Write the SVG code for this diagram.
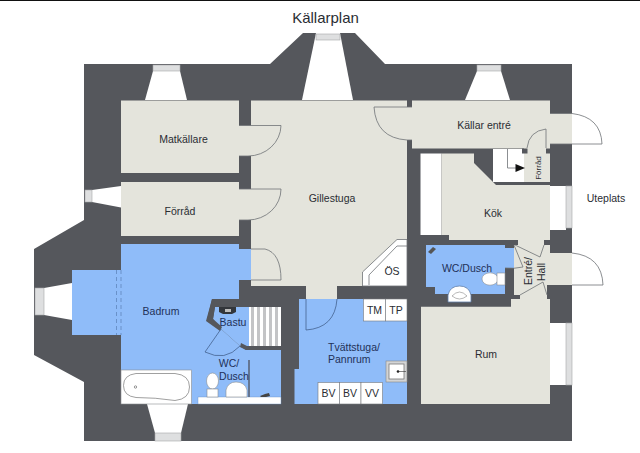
<svg xmlns="http://www.w3.org/2000/svg" width="640" height="453" viewBox="0 0 640 453">
<style>
text{font-family:"Liberation Sans",Arial,sans-serif;font-size:10.5px;text-anchor:middle}
.d{fill:#2a2d33}.b{fill:#1f3158}
.wall{fill:#55575c}.cr{fill:#e4e4dc}.bl{fill:#8fbcf9}.wh{fill:#fff}
.ln{fill:none;stroke:#6f7276;stroke-width:.8}
.lb{fill:none;stroke:#44628f;stroke-width:.8}
.win{fill:#dedfe0;stroke:#a5a7a9;stroke-width:.6}
.fx{fill:#fff;stroke:#8a8d90;stroke-width:.6}
</style>
<rect width="640" height="453" fill="#fff"/>
<rect width="640" height="1" fill="#111"/>
<text x="325.500" y="23" style="font-size:15px" class="d">Källarplan</text>
<polygon id="walls" class="wall" points="84,64 270,64 303,33 355,33 385,64 572,64 572,441 84,441 84,382 34,355 34,249 84,220"/>
<g id="windows">
<polygon class="wh" points="153,71 180,71 187,100 145,100"/><rect class="win" x="153" y="65" width="27" height="6"/>
<polygon class="wh" points="316,33 340,33 353,100 302,100"/><rect class="win" x="316" y="34" width="24" height="6"/>
<polygon class="wh" points="477,71 501,71 510,100 465,100"/><rect class="win" x="477" y="65" width="24" height="6"/>
<polygon class="wh" points="147,404 188,404 181,433 155,433"/><rect class="win" x="155" y="433" width="26" height="8"/>
<polygon class="wh" points="92,190 121,186 121,207.500 92,202"/><rect class="win" x="85" y="190" width="7" height="12"/>
<polygon class="wh" points="44,288 72,283 72,320 44,315"/><rect class="win" x="35" y="288" width="9" height="27"/>
<rect class="wh" x="550" y="186" width="16" height="44"/><rect class="win" x="566" y="186" width="6" height="42"/>
<rect class="wh" x="550" y="323" width="16" height="62"/><rect class="win" x="566" y="323" width="6" height="62"/>
</g>
<g id="matkallare"><rect class="cr" x="121" y="100.500" width="118" height="72.500"/><rect class="cr" x="238" y="125.500" width="14" height="30.500"/><text x="183.500" y="143" class="d">Matkällare</text></g>
<g id="forrad"><rect class="cr" x="121" y="182" width="118" height="54"/><rect class="cr" x="238" y="189" width="14" height="31"/><text x="180" y="215" class="d">Förråd</text></g>
<g id="gillestuga"><polygon class="cr" points="251,100.500 407,100.500 407,286 337,286 337,299 306,299 306,286 251,286"/><text x="332" y="202" class="d">Gillestuga</text></g>
<g id="os"><polygon class="wh" stroke="#6f7276" stroke-width=".8" points="362.500,286 362.500,272 397,239.500 407,239.500 407,286"/><polyline class="ln" points="369,285 369,275 397,246 407,246"/><text x="392" y="275" class="d">ÖS</text></g>
<g id="kallar-entre"><polygon class="cr" points="412,100.500 550,100.500 550,113.500 572,113.500 572,144 550,144 550,148.500 412,148.500 412,140 405,140 405,107 412,107"/><text x="484" y="129" class="d">Källar entré</text></g>
<g id="vit"><rect class="wh" x="420.500" y="153.500" width="21" height="81.500"/></g>
<g id="kok"><polygon class="cr" points="441.500,153.500 474,153.500 474,163 496,185 550,185 550,240 544,240 544,245 550,245 550,253 572,253 572,285 550,285 550,404 421,404 421,306.700 511,306.700 511,299 520,299 520,295 514,295 514,245 518,245 518,240 449,240 449,235 441.500,235"/><polygon class="wall" points="547,285 550,285 550,299 547,299"/><text x="493" y="217" class="d">Kök</text><text x="486" y="358" class="d">Rum</text></g>
<g id="forrad-litet"><rect class="wh" x="493" y="149" width="31" height="33"/><rect class="cr" x="524" y="148" width="26" height="34"/><rect class="wall" x="522" y="148.500" width="5.500" height="5"/><rect class="wall" x="546" y="148.500" width="4.500" height="5"/><polyline class="ln" points="507.500,149 507.500,168 517,168"/><polygon fill="#111" points="515.500,164 525,168 515.500,172"/><text transform="translate(541,168) rotate(-90)" style="font-size:8px" class="d">Förråd</text></g>
<g id="wc-dusch"><polygon class="bl" points="426,245 505,245 505,248 514,248 514,268 505,268 505,294 435,294 435,287 426,287"/><path d="M448,302V295Q450,286 459.500,286Q469,286 471,295V302Z" fill="#fff" stroke="#5f7ea8" stroke-width=".8"/><path d="M452,296Q459.500,288 467,296Q463,299 459.500,299Q456,299 452,296Z" fill="none" stroke="#888" stroke-width=".6"/><ellipse class="fx" cx="490" cy="279" rx="8" ry="6.200"/><rect class="fx" x="497" y="273" width="8" height="12"/><path d="M428,252l5,-5l3,2l-5,5z" fill="#555"/><text x="467" y="272" class="b">WC/Dusch</text></g>
<g id="badrum"><polygon class="bl" points="121,244 239,244 239,249 251,249 251,280 239,280 239,299 212,299 207,320 221,329 240,346 246,350 281,350 281,404 121,404 121,335 72,335 72,270 121,270"/><line x1="116.500" y1="270" x2="116.500" y2="335" stroke="#5f86bd" stroke-width=".8" stroke-dasharray="4,3"/><line x1="121" y1="270" x2="121" y2="335" stroke="#5f86bd" stroke-width=".8" stroke-dasharray="4,3"/><rect class="wh" x="121" y="370" width="70.500" height="34" stroke="#8a8d90" stroke-width=".6"/><path d="M136,373.500H175Q189.500,375 189.500,387Q189.500,399 175,400.500Q155,397.500 136,397.500Q123.500,396 123.500,385.500Q123.500,375 136,373.500Z" fill="#fff" stroke="#777" stroke-width=".7"/><circle cx="135.500" cy="387" r="1.200" fill="none" stroke="#555" stroke-width=".6"/><rect class="wh" x="198" y="397" width="83" height="7" stroke="#6b8fc0" stroke-width=".4"/><text x="161" y="315" class="b">Badrum</text></g>
<g id="bastu"><polygon class="bl" points="215,307 249,307 249,346 240,346 221,329 213,319"/><rect class="wh" x="249" y="307" width="32" height="39"/><g fill="#c3c4c6"><rect x="251" y="307" width="3" height="39"/><rect x="257" y="307" width="3" height="39"/><rect x="263" y="307" width="3" height="39"/><rect x="269" y="307" width="3" height="39"/><rect x="275" y="307" width="3" height="39"/></g><polygon class="wall" points="212,299 215,307 213,319 222,327 220,331 206,321"/><polygon class="wall" points="241,343 247,346 281,346 281,350 246,350 240,347"/><rect class="wall" x="212" y="299" width="69" height="8"/><path d="M219,307H236V312L232,314H223L219,312Z" fill="#33363b"/><rect x="225" y="309" width="6" height="3" fill="#bbb"/><text x="233" y="326" class="b">Bastu</text></g>
<g id="wc-bad"><ellipse class="fx" cx="212.500" cy="381" rx="6" ry="8"/><rect class="fx" x="207" y="389" width="11" height="8"/><path d="M226,397V390Q228,382 236,382Q245,382 247,390V397Z" class="fx"/><line x1="249" y1="360" x2="249" y2="397" stroke="#565f70" stroke-width="1.500"/><path d="M260,396l5,-2 4,-1 1,3 -4,1h-5z" fill="#444"/><text x="229" y="367" class="b">WC/</text><text x="234" y="380" class="b">Dusch</text></g>
<g id="tvatt"><polygon class="bl" points="299,299 407,299 407,404 294.500,404 294.500,369 299,369"/><rect class="cr" x="306" y="286" width="31" height="13"/>
<g fill="#fff" stroke="#77797c" stroke-width=".6"><rect x="363.500" y="299" width="22" height="22"/><rect x="385.500" y="299" width="21.500" height="22"/><rect x="318" y="382.500" width="21.500" height="21.500"/><rect x="339.500" y="382.500" width="21.500" height="21.500"/><rect x="361" y="382.500" width="21.500" height="21.500"/></g>
<rect x="386" y="361" width="21" height="21" fill="#d3d4d5" stroke="#888" stroke-width=".6"/><rect x="389" y="364" width="15" height="15" fill="#fff" stroke="#777" stroke-width=".8"/><circle cx="398" cy="371.500" r="1.300" fill="#222"/><line x1="398" y1="371.500" x2="406" y2="371.500" stroke="#333" stroke-width=".6"/>
<text x="374.500" y="314" class="d">TM</text><text x="396" y="314" class="d">TP</text><text x="328" y="351" style="text-anchor:start" class="b">Tvättstuga/</text><text x="328" y="363" style="text-anchor:start" class="b">Pannrum</text><text x="328.500" y="397" class="d">BV</text><text x="350" y="397" class="d">BV</text><text x="372" y="397" class="d">VV</text></g>
<g id="hall"><text transform="translate(532,271) rotate(-90)" class="d">Entré/</text><text transform="translate(545,272) rotate(-90)" class="d">Hall</text></g>
<text id="uteplats" x="606" y="202" class="d">Uteplats</text>
<g id="doors">
<path class="ln" d="M239,125.500H281A33,31 0 0 1 248,156H239"/>
<path class="ln" d="M239,189H281A33,31 0 0 1 248,220H239"/>
<path class="ln" d="M251,249H265Q281,253 281,280H251"/>
<path class="ln" d="M412,107H374Q376,138 407,140H412"/>
<path class="ln" d="M550,113.500H572Q601,117 602,144H550"/>
<path class="ln" d="M572,253Q602,256 603,285H572"/>
<path class="ln" d="M546,148V129Q529,131 527,148"/>
<path class="lb" d="M306,299V330Q335,328 337,299"/>
<path class="lb" d="M221,329L205,352Q225,362 240,346"/>
<path class="ln" d="M515,245L540,257L544,245"/>
<path class="ln" d="M514,245L523,267Q514,269 505,268"/>
<path class="ln" d="M520,295L543,282L547,295"/>
</g>
</svg>
